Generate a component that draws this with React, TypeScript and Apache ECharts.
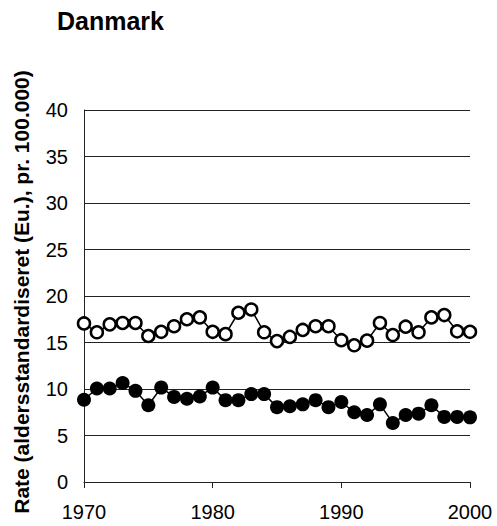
import React, { useEffect, useRef } from "react";
import * as echarts from "echarts";

const years: number[] = [
  1970, 1971, 1972, 1973, 1974, 1975, 1976, 1977, 1978, 1979,
  1980, 1981, 1982, 1983, 1984, 1985, 1986, 1987, 1988, 1989,
  1990, 1991, 1992, 1993, 1994, 1995, 1996, 1997, 1998, 1999, 2000,
];

const openSeries: number[] = [
  17.05, 16.1, 16.95, 17.1, 17.1, 15.7, 16.15, 16.75, 17.5, 17.7,
  16.15, 15.9, 18.2, 18.55, 16.1, 15.15, 15.6, 16.35, 16.75, 16.75,
  15.25, 14.7, 15.2, 17.1, 15.8, 16.7, 16.1, 17.7, 17.95, 16.2, 16.15,
];

const filledSeries: number[] = [
  8.85, 10.05, 10.05, 10.65, 9.8, 8.25, 10.15, 9.15, 8.95, 9.2,
  10.15, 8.8, 8.8, 9.45, 9.45, 8.05, 8.15, 8.35, 8.8, 8.05,
  8.6, 7.5, 7.2, 8.35, 6.35, 7.2, 7.35, 8.25, 7.0, 7.0, 6.95,
];

const xTicks = { min: 1970, max: 2000, interval: 10 };
const yTicks = { min: 0, max: 40, interval: 5 };

const title = "Danmark";
const yAxisTitle = "Rate (aldersstandardiseret (Eu.), pr. 100.000)";

const FONT = "'Liberation Sans', Arial, Helvetica, sans-serif";

export default function App() {
  const ref = useRef<HTMLDivElement>(null);

  useEffect(() => {
    if (!ref.current) return;
    const chart = echarts.init(ref.current, null, { renderer: "svg" });
    const pair = (vals: number[]) => years.map((y, i) => [y, vals[i]]);
    chart.setOption({
      animation: false,
      backgroundColor: "#ffffff",
      grid: {
        left: 84,
        right: 27,
        top: 110,
        bottom: 44,
        containLabel: false,
        outerBoundsMode: "none",
      },
      graphic: [
        {
          type: "text",
          left: 57,
          top: 8,
          style: {
            text: title,
            font: `bold 25px ${FONT}`,
            fill: "#000",
          },
        },
        {
          type: "text",
          x: 21,
          y: 292,
          rotation: Math.PI / 2,
          style: {
            text: yAxisTitle,
            font: `bold 21px ${FONT}`,
            fill: "#000",
            align: "center",
            verticalAlign: "middle",
          },
        },
      ],
      xAxis: {
        type: "value",
        min: xTicks.min,
        max: xTicks.max,
        interval: xTicks.interval,
        axisLine: { show: true, lineStyle: { color: "#222", width: 1 } },
        axisTick: { show: true, length: 6, lineStyle: { color: "#222" } },
        splitLine: { show: false },
        axisLabel: {
          color: "#000",
          fontFamily: FONT,
          fontSize: 20,
          margin: 20,
          formatter: (v: number) => String(v),
        },
      },
      yAxis: {
        type: "value",
        min: yTicks.min,
        max: yTicks.max,
        interval: yTicks.interval,
        axisLine: { show: true, lineStyle: { color: "#222", width: 1 } },
        axisTick: { show: false },
        splitLine: { show: true, lineStyle: { color: "#222", width: 1 } },
        axisLabel: {
          color: "#000",
          fontFamily: FONT,
          fontSize: 20,
          margin: 16,
        },
      },
      series: [
        {
          type: "line",
          data: pair(filledSeries),
          symbol: "circle",
          symbolSize: 14,
          lineStyle: { color: "#000", width: 1.5 },
          itemStyle: { color: "#000", borderColor: "#000", borderWidth: 0 },
          z: 3,
        },
        {
          type: "line",
          data: pair(openSeries),
          symbol: "circle",
          symbolSize: 12,
          showAllSymbol: true,
          lineStyle: { color: "#000", width: 1.5 },
          itemStyle: { color: "#fff", borderColor: "#000", borderWidth: 2.5 },
          z: 4,
        },
      ],
    });
    return () => chart.dispose();
  }, []);

  return (
    <div
      ref={ref}
      style={{ position: "fixed", left: 0, top: 0, width: 497, height: 526 }}
    />
  );
}
